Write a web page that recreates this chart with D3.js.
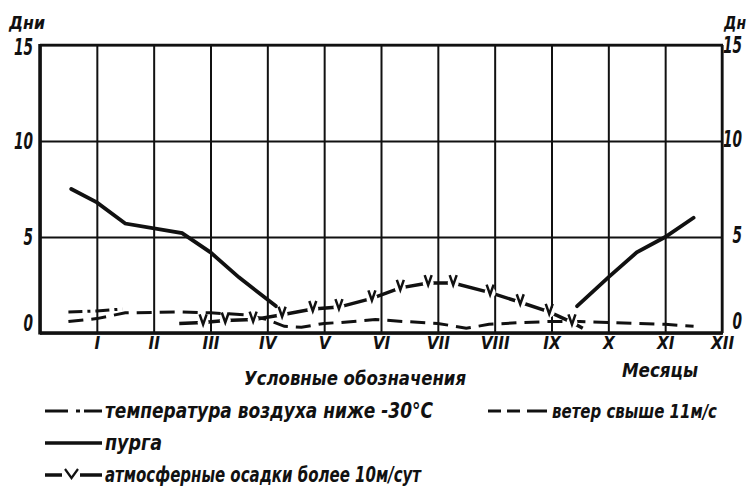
<!DOCTYPE html>
<html>
<head>
<meta charset="utf-8">
<script src="https://cdnjs.cloudflare.com/ajax/libs/d3/7.8.5/d3.min.js"></script>
<style>
  html, body { margin: 0; padding: 0; background: #fff; }
  svg { display: block; }
  text { font-family: "Liberation Sans Narrow", "DejaVu Sans Condensed", sans-serif; font-style: italic; font-weight: bold; fill: #111; }
</style>
</head>
<body>
<svg id="chart" width="749" height="486"></svg>
<script>
// === Data (months on x: 0..12, days on y) ===
const monthLabels = ["I", "II", "III", "IV", "V", "VI", "VII", "VIII", "IX", "X", "XI", "XII"];
const dayTicks = [0, 5, 10, 15];

// пурга, two pieces (winter start and winter end)
const blizzardSpring = [[0.55, 7.5], [1, 6.8], [1.5, 5.7], [2.5, 5.2], [3, 4.2], [3.5, 2.9], [4.15, 1.4]];
const blizzardAutumn = [[9.45, 1.4], [10, 2.9], [10.5, 4.2], [11, 5.0], [11.5, 6.0]];

// температура воздуха ниже -30
const frost = [[0.5, 1.1], [1, 1.15], [1.45, 1.25]];

// ветер свыше 11 м/с
const wind = [[0.5, 0.6], [1, 0.75], [1.5, 1.05], [2.5, 1.1], [3, 1.05], [3.6, 0.95], [4, 0.7], [4.3, 0.35],
  [4.6, 0.3], [5, 0.5], [5.3, 0.55], [5.9, 0.7], [6.4, 0.6], [7, 0.5], [7.5, 0.25], [7.9, 0.45],
  [8.5, 0.55], [9, 0.6], [9.5, 0.6], [10, 0.55], [10.5, 0.5], [11, 0.45], [11.5, 0.35]];

// атмосферные осадки более 10 мм/сут (marks at every inner point)
const precip = [[2.45, 0.5], [2.87, 0.55], [3.26, 0.65], [3.75, 0.7], [4.26, 0.95], [4.8, 1.25], [5.26, 1.35],
  [5.84, 1.8], [6.34, 2.35], [6.83, 2.6], [7.27, 2.6], [7.92, 2.1], [8.45, 1.6], [8.96, 1.1],
  [9.36, 0.55], [9.55, 0.25]];

const svg = d3.select("#chart");

const x = d3.scaleLinear().domain([0, 12]).range([40, 722]);
const y = d3.scaleLinear().domain([0, 15]).range([333, 45]);
const plotH = y(0) - y(15);
const plotW = x(12) - x(0);

// grid: vertical month lines
svg.append("g")
  .attr("transform", `translate(0,${y(0)})`)
  .call(d3.axisBottom(x).tickValues(d3.range(0, 13)).tickSize(-plotH).tickFormat(""))
  .call(g => g.select(".domain").remove())
  .call(g => g.selectAll("line").attr("stroke", "#111").attr("stroke-width", 2));

// grid: horizontal day lines
svg.append("g")
  .attr("transform", `translate(${x(0)},0)`)
  .call(d3.axisLeft(y).tickValues(dayTicks).tickSize(-plotW).tickFormat(""))
  .call(g => g.select(".domain").remove())
  .call(g => g.selectAll("line").attr("stroke", "#111").attr("stroke-width", 2));

// heavier frame edges
svg.append("line").attr("x1", x(0)).attr("x2", x(0)).attr("y1", y(15) - 1).attr("y2", y(0) + 1.5)
  .attr("stroke", "#111").attr("stroke-width", 3.5);
svg.append("line").attr("x1", x(0)).attr("x2", x(12) + 1).attr("y1", y(0)).attr("y2", y(0))
  .attr("stroke", "#111").attr("stroke-width", 3.5);
svg.append("line").attr("x1", x(0)).attr("x2", x(12) + 1).attr("y1", y(15)).attr("y2", y(15))
  .attr("stroke", "#111").attr("stroke-width", 2.5);
svg.append("line").attr("x1", x(12)).attr("x2", x(12)).attr("y1", y(15)).attr("y2", y(0))
  .attr("stroke", "#111").attr("stroke-width", 2.5);

// month labels
svg.append("g")
  .attr("transform", `translate(0,${y(0)})`)
  .call(d3.axisBottom(x).tickValues(d3.range(1, 13)).tickSize(0).tickPadding(4)
    .tickFormat(d => monthLabels[d - 1]))
  .call(g => g.select(".domain").remove())
  .call(g => g.selectAll("text").attr("font-size", 17).attr("fill", "#111")
    .style("font-family", null));

// day labels, left and right (tall narrow drafting digits)
const digitW = s => String(s).length * 9.5;

svg.append("g")
  .attr("transform", `translate(${x(0)},0)`)
  .call(d3.axisLeft(y).tickValues(dayTicks).tickSize(0).tickPadding(7))
  .call(g => g.select(".domain").remove())
  .call(g => g.selectAll("text").attr("font-size", 23).attr("fill", "#111")
    .attr("textLength", d => digitW(d)).attr("lengthAdjust", "spacingAndGlyphs")
    .attr("dy", d => d === 0 ? "-0.1em" : d === 15 ? "0.4em" : "0.34em"));

svg.append("g")
  .attr("transform", `translate(${x(12)},0)`)
  .call(d3.axisRight(y).tickValues(dayTicks).tickSize(0).tickPadding(20))
  .call(g => g.select(".domain").remove())
  .call(g => g.selectAll("text").attr("font-size", 23).attr("fill", "#111")
    .attr("textLength", d => digitW(d)).attr("lengthAdjust", "spacingAndGlyphs")
    .attr("text-anchor", "end").attr("dy", d => d === 0 ? "-0.2em" : d === 15 ? "0.34em" : "0.26em"));

svg.append("text").attr("x", 9).attr("y", 29).attr("font-size", 18)
  .attr("textLength", 36).attr("lengthAdjust", "spacingAndGlyphs").text("Дни");
svg.append("text").attr("x", 724).attr("y", 29).attr("font-size", 17)
  .attr("textLength", 22).attr("lengthAdjust", "spacingAndGlyphs").text("Дн");

// series
const line = d3.line().x(d => x(d[0])).y(d => y(d[1])).curve(d3.curveLinear);

svg.append("path").datum(wind).attr("d", line).attr("fill", "none")
  .attr("stroke", "#111").attr("stroke-width", 3).attr("stroke-dasharray", "15,8");

svg.append("path").datum(frost).attr("d", line).attr("fill", "none")
  .attr("stroke", "#111").attr("stroke-width", 3).attr("stroke-dasharray", "14,5,3,5");

[blizzardSpring, blizzardAutumn].forEach(seg => {
  svg.append("path").datum(seg).attr("d", line).attr("fill", "none")
    .attr("stroke", "#111").attr("stroke-width", 3.8).attr("stroke-linecap", "round");
});

svg.append("path").datum(precip).attr("d", line).attr("fill", "none")
  .attr("stroke", "#111").attr("stroke-width", 3.5);

const marks = svg.append("g").selectAll("g")
  .data(precip.slice(1, -1))
  .join("g")
  .attr("transform", d => `translate(${x(d[0])},${y(d[1])})`);
marks.append("circle").attr("r", 5.5).attr("fill", "#fff");
marks.append("path").attr("d", "M-3.5,-8 L0,2 L3.5,-8").attr("fill", "none")
  .attr("stroke", "#111").attr("stroke-width", 2.5);

// captions
svg.append("text").attr("x", 622).attr("y", 377).attr("font-size", 19)
  .attr("textLength", 76).attr("lengthAdjust", "spacingAndGlyphs").text("Месяцы");
svg.append("text").attr("x", 244).attr("y", 385).attr("font-size", 20)
  .attr("textLength", 222).attr("lengthAdjust", "spacingAndGlyphs").text("Условные обозначения");

// legend
const legend = svg.append("g");
const sym = (x1, x2, yy, dash, w) => legend.append("line")
  .attr("x1", x1).attr("x2", x2).attr("y1", yy).attr("y2", yy)
  .attr("stroke", "#111").attr("stroke-width", w || 3).attr("stroke-dasharray", dash || null);

sym(45, 68, 411); sym(76, 80, 411); sym(84, 102, 411);
legend.append("text").attr("x", 105).attr("y", 418).attr("font-size", 21)
  .attr("textLength", 328).attr("lengthAdjust", "spacingAndGlyphs").text("температура воздуха ниже -30°С");

sym(488, 501, 411); sym(507, 520, 411); sym(527, 547, 411);
legend.append("text").attr("x", 552).attr("y", 418).attr("font-size", 19)
  .attr("textLength", 165).attr("lengthAdjust", "spacingAndGlyphs").text("ветер свыше 11м/с");

sym(45, 102, 443, null, 3.5);
legend.append("text").attr("x", 105).attr("y", 450).attr("font-size", 21)
  .attr("textLength", 57).attr("lengthAdjust", "spacingAndGlyphs").text("пурга");

sym(45, 62, 475, null, 3.5); sym(80, 102, 475, null, 3.5);
legend.append("path").attr("d", "M65,469 L71.5,478 L78,469").attr("fill", "none")
  .attr("stroke", "#111").attr("stroke-width", 2.2);
legend.append("text").attr("x", 105).attr("y", 482).attr("font-size", 21)
  .attr("textLength", 316).attr("lengthAdjust", "spacingAndGlyphs").text("атмосферные осадки более 10м/сут");
</script>
</body>
</html>
